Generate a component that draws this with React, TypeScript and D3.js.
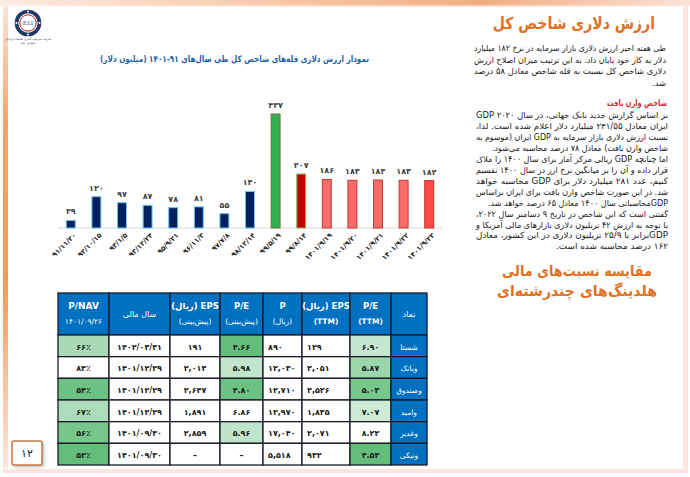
import React from 'react';
import * as d3 from 'd3';

const FA = "'DejaVu Sans', sans-serif";
const toFa = (s: string | number) => String(s).replace(/[0-9]/g, (d) => '۰۱۲۳۴۵۶۷۸۹'[+d]);

// ---------- chart data ----------
const categories = ['۹۱/۱۱/۲۰', '۹۲/۱۰/۱۵', '۹۳/۱/۵', '۹۳/۱۲/۲۴', '۹۵/۹/۲۱', '۹۶/۱۱/۳', '۹۷/۷/۸', '۹۸/۱۲/۱۴', '۹۹/۵/۱۹', '۹۹/۸/۱۴', '۱۴۰۱/۹/۱۹', '۱۴۰۱/۹/۲۰', '۱۴۰۱/۹/۲۱', '۱۴۰۱/۹/۲۲', '۱۴۰۱/۹/۲۳'];
const values = [29, 120, 97, 87, 78, 81, 55, 140, 437, 207, 186, 183, 184, 183, 182];
const groups = ['past', 'past', 'past', 'past', 'past', 'past', 'past', 'past', 'peak', 'after', 'recent', 'recent', 'recent', 'recent', 'last'];
const chartTitle = 'نمودار ارزش دلاری قله\u200cهای شاخص کل طی سال\u200cهای ۹۱-۱۴۰۱ (میلیون دلار)';

// ---------- table data ----------
const symbols = ['شستا', 'وبانک', 'وصندوق', 'وامید', 'وغدیر', 'ونیکی'];
const peTTM = [6.9, 5.87, 5.03, 7.07, 8.22, 4.53];
const epsTTM = [129, 2051, 2526, 1835, 2071, 932];
const price = [890, 12030, 12710, 12970, 17040, 5518];
const peFwd: (number | null)[] = [4.66, 5.98, 4.8, 6.86, 5.96, null];
const epsFwd: (number | null)[] = [191, 2013, 2647, 1891, 2859, null];
const fiscalYear = ['۱۴۰۲/۰۳/۳۱', '۱۴۰۱/۱۲/۲۹', '۱۴۰۱/۱۲/۲۹', '۱۴۰۱/۱۲/۲۹', '۱۴۰۱/۰۹/۳۰', '۱۴۰۱/۰۹/۳۰'];
const pNav = [66, 84, 54, 67, 56, 52];
const headers = [
  ['P/NAV', '۱۴۰۱/۰۹/۲۶'],
  ['سال مالی'],
  ['EPS (ریال)', '(پیش\u200cبینی)'],
  ['P/E', '(پیش\u200cبینی)'],
  ['P', '(ریال)'],
  ['EPS (ریال)', '(TTM)'],
  ['P/E', '(TTM)'],
  ['نماد'],
];

// ---------- text ----------
const mainTitle = 'ارزش دلاری شاخص کل';
const para1 = [
  'طی هفته اخیر ارزش دلاری بازار سرمایه در نرخ ۱۸۲ میلیارد',
  'دلار به کار خود پایان داد. به این ترتیب میزان اصلاح ارزش',
  'دلاری شاخص کل نسبت به قله شاخص معادل ۵۸ درصد',
  'شد.',
];
const para2Title = 'شاخص وارن بافت';
const para2 = [
  'بر اساس گزارش جدید بانک جهانی، در سال ۲۰۲۰ GDP',
  'ایران معادل ۲۳۱/۵۵ میلیارد دلار اعلام شده است. لذا،',
  'نسبت ارزش دلاری بازار سرمایه به GDP ایران (موسوم به',
  'شاخص وارن بافت) معادل ۷۸ درصد محاسبه می\u200cشود.',
  'اما چنانچه GDP ریالی مرکز آمار برای سال ۱۴۰۰ را ملاک',
  'قرار داده و آن را بر میانگین نرخ ارز در سال ۱۴۰۰ تقسیم',
  'کنیم، عدد ۲۸۱ میلیارد دلار برای GDP محاسبه خواهد',
  'شد. در این صورت شاخص وارن بافت برای ایران براساس',
  'GDPمحاسباتی سال ۱۴۰۰ معادل ۶۵ درصد خواهد شد.',
  'گفتنی است که این شاخص در تاریخ ۹ دسامبر سال ۲۰۲۲،',
  'با توجه به ارزش ۴۲ تریلیون دلاری بازارهای مالی آمریکا و',
  'GDPبرابر با ۲۵/۹ تریلیون دلاری در این کشور، معادل',
  '۱۶۲ درصد محاسبه شده است.',
];
const section2 = ['مقایسه نسبت\u200cهای مالی', 'هلدینگ\u200cهای چندرشته\u200cای'];
const pageNo = '۱۲';

const groupFill: Record<string, string> = { past: '#002060', peak: '#2fb050', after: '#c00000', recent: '#ff6b6b', last: '#ff4848' };
const groupStroke: Record<string, string> = { past: '#6fc6ee', peak: '#7a6a3a', after: '#8fc060', recent: '#c0392b', last: '#c0392b' };

function Line({ x, y, text, width, size, weight = 'normal', fill = '#1a1a1a' }: any) {
  return (
    <text x={x} y={y} direction="rtl" textAnchor="start" fontFamily={FA} fontSize={size} fontWeight={weight} fill={fill}
      textLength={width} lengthAdjust="spacingAndGlyphs">{text}</text>
  );
}

export default function App() {
  const W = 690, H = 477;
  const x = d3.scaleBand<string>().domain(categories).range([58, 442]).paddingInner(0.65).paddingOuter(0.325);
  const y = d3.scaleLinear().domain([0, 437]).range([228, 114]);
  const base = y(0);

  // table geometry
  const colEdges = [58, 109, 170, 220, 263, 302, 350, 391, 427];
  const headTop = 293, headBot = 335, rowH = (465 - 335) / 6;
  const greenScale = (arr: (number | null)[]) => {
    const v = arr.filter((d) => d != null) as number[];
    const s = d3.scaleLinear<string>().domain([d3.min(v)!, d3.max(v)!]).range(['#63be7b', '#ffffff']).interpolate(d3.interpolateRgb);
    return (d: number | null) => (d == null ? '#ffffff' : s(d));
  };
  const gNav = greenScale(pNav), gFwd = greenScale(peFwd), gTTM = greenScale(peTTM);
  const fmtInt = (v: number | null) => (v == null ? '–' : toFa(d3.format(',')(v)));
  const fmtDec = (v: number | null) => (v == null ? '–' : toFa(v.toFixed(2)));

  const rows = symbols.map((s, i) => [
    { t: toFa(pNav[i]) + '٪', fill: gNav(pNav[i]), align: 'middle' },
    { t: fiscalYear[i], fill: '#ffffff', align: 'middle' },
    { t: fmtInt(epsFwd[i]), fill: '#ffffff', align: 'middle' },
    { t: fmtDec(peFwd[i]), fill: gFwd(peFwd[i]), align: 'middle' },
    { t: fmtInt(price[i]), fill: '#ffffff', align: 'start' },
    { t: fmtInt(epsTTM[i]), fill: '#ffffff', align: 'start' },
    { t: fmtDec(peTTM[i]), fill: gTTM(peTTM[i]), align: 'middle' },
    { t: s, fill: '#0070c0', align: 'middle', name: true },
  ]);

  const para1W = [192, 192, 192, 14];
  const para2W = [192, 192, 192, 176, 192, 192, 192, 192, 180, 192, 192, 192, 112];

  return (
    <svg width={W} height={H} style={{ position: 'absolute', left: 0, top: 0 }} xmlns="http://www.w3.org/2000/svg">
      <defs>
        <linearGradient id="topBand" x1="0" x2="1" y1="0" y2="0">
          <stop offset="0" stopColor="#fcebe2" />
          <stop offset="0.45" stopColor="#f6c3a0" />
          <stop offset="0.7" stopColor="#f2ad80" />
          <stop offset="1" stopColor="#fbe3d8" />
        </linearGradient>
        <linearGradient id="leftBand" x1="0" x2="0" y1="0" y2="1">
          <stop offset="0" stopColor="#fbe4d8" />
          <stop offset="0.25" stopColor="#f4a468" />
          <stop offset="0.6" stopColor="#f39a58" />
          <stop offset="1" stopColor="#fbe6dc" />
        </linearGradient>
        <linearGradient id="topFade" x1="0" x2="0" y1="0" y2="1">
          <stop offset="0" stopColor="#fff" stopOpacity="0" />
          <stop offset="1" stopColor="#fff" stopOpacity="1" />
        </linearGradient>
        <filter id="shadow" x="-20%" y="-20%" width="150%" height="150%">
          <feDropShadow dx="1.5" dy="1.5" stdDeviation="1" floodColor="#999" floodOpacity="0.6" />
        </filter>
      </defs>
      <rect x={0} y={0} width={W} height={H} fill="#ffffff" />
      {/* frame */}
      <rect x={0} y={0} width={W} height={7} fill="url(#topBand)" />
      <rect x={0} y={4} width={W} height={4} fill="url(#topFade)" />
      <rect x={3} y={6} width={5} height={462} fill="url(#leftBand)" />
      <rect x={683} y={6} width={5} height={464} fill="#fbe5dc" />
      <rect x={3} y={469} width={685} height={4} fill="#fbe5dc" />

      {/* logo */}
      <g>
        <circle cx={28} cy={23} r={11.5} fill="#ffffff" stroke="#1f3864" strokeWidth={3.6} />
        <circle cx={28} cy={23} r={8.2} fill="#ffffff" stroke="#c00000" strokeWidth={0.9} />
        {[0, 90, 180, 270].map((a) => (
          <circle key={a} cx={28 + 11.5 * Math.cos((a * Math.PI) / 180)} cy={23 + 11.5 * Math.sin((a * Math.PI) / 180)} r={1} fill="#ffffff" />
        ))}
        <text x={28} y={25} textAnchor="middle" fontFamily="'Liberation Serif', serif" fontSize={5.5} fill="#1f3864">E.I.I</text>
        <text x={28} y={40} textAnchor="middle" fontFamily={FA} fontSize={3} fill="#1f3864">شرکت سرمایه گذاری اقتصاد ایرانیان</text>
        <text x={28} y={44} textAnchor="middle" fontFamily={FA} fontSize={3} fill="#1f3864">سهامی عام</text>
      </g>

      {/* chart title */}
      <text x={369} y={62} direction="rtl" textAnchor="start" fontFamily={FA} fontSize={9} fontWeight="bold" fill="#1f5f9f"
        textLength={269} lengthAdjust="spacingAndGlyphs">{chartTitle}</text>

      {/* axis line */}
      <line x1={58} x2={442} y1={base} y2={base} stroke="#d9d9d9" strokeWidth={1} />

      {/* bars */}
      {categories.map((c, i) => {
        const bx = x(c)!;
        const by = y(values[i]);
        const g = groups[i];
        return (
          <g key={c}>
            <rect x={bx} y={by} width={x.bandwidth()} height={base - by} fill={groupFill[g]} stroke={groupStroke[g]} strokeWidth={1} />
            <text x={bx + x.bandwidth() / 2} y={by - 6} textAnchor="middle" fontFamily={FA} fontSize={8} fontWeight="bold" fill="#404040">{toFa(values[i])}</text>
            <text transform={`translate(${bx + x.bandwidth() / 2 + 4},${base + 6}) rotate(-45)`} textAnchor="end" dy="0.35em"
              fontFamily={FA} fontSize={7} fontWeight="bold" fill="#262626">{c}</text>
          </g>
        );
      })}

      {/* right text */}
      <text transform="translate(655,29) scale(0.85,1)" x={0} y={0} textAnchor="end" fontFamily={FA} fontSize={16.5} fontWeight="bold" fill="#e2701e">{mainTitle}</text>
      {para1.map((t, i) => (
        <Line key={i} x={666} y={51 + i * 11.6} text={t} width={para1W[i]} size={8.5} />
      ))}
      <text x={667} y={106} textAnchor="end" fontFamily={FA} fontSize={9} fontWeight="bold" fill="#e3262b"
        textLength={60} lengthAdjust="spacingAndGlyphs">{para2Title}</text>
      {para2.map((t, i) => (
        <Line key={i} x={668} y={118 + i * 10.95} text={t} width={para2W[i]} size={8.5} />
      ))}
      <text x={577} y={276} textAnchor="middle" fontFamily={FA} fontSize={15} fontWeight="bold" fill="#e2701e"
        textLength={150} lengthAdjust="spacingAndGlyphs">{section2[0]}</text>
      <text x={577} y={296} textAnchor="middle" fontFamily={FA} fontSize={15} fontWeight="bold" fill="#e2701e"
        textLength={160} lengthAdjust="spacingAndGlyphs">{section2[1]}</text>

      {/* table */}
      <g>
        {headers.map((h, j) => {
          const x0 = colEdges[j], x1 = colEdges[j + 1], cx = (x0 + x1) / 2;
          return (
            <g key={'h' + j}>
              <rect x={x0} y={headTop} width={x1 - x0} height={headBot - headTop} fill="#0070c0" stroke="#1a1a2a" strokeWidth={1.3} />
              {h.length === 2 ? (
                <>
                  <text x={cx} y={309} textAnchor="middle" direction="rtl" fontFamily={FA} fontSize={j === 0 ? 9 : 8.5} fontWeight="bold" fill="#ffffff">{h[0]}</text>
                  <text x={cx} y={324} textAnchor="middle" direction="rtl" fontFamily={FA} fontSize={7.5} fontWeight={h[1].includes('TTM') ? 'bold' : 'normal'} fill="#ffffff">{h[1]}</text>
                </>
              ) : (
                <text x={cx} y={317} textAnchor="middle" direction="rtl" fontFamily={FA} fontSize={8} fill="#ffffff">{h[0]}</text>
              )}
            </g>
          );
        })}
        {rows.map((r, i) =>
          r.map((cell: any, j) => {
            const x0 = colEdges[j], x1 = colEdges[j + 1];
            const y0 = headBot + i * rowH;
            const tx = cell.align === 'start' ? x0 + 5 : (x0 + x1) / 2;
            return (
              <g key={i + '-' + j}>
                <rect x={x0} y={y0} width={x1 - x0} height={rowH} fill={cell.fill} stroke="#1a1a2a" strokeWidth={1.3} />
                <text x={tx} y={y0 + 14.5} textAnchor={cell.align} direction={cell.name ? 'rtl' : 'ltr'} fontFamily={FA}
                  fontSize={cell.name ? 7.5 : 8} fontWeight={cell.name ? 'normal' : 'bold'} fill={cell.name ? '#ffffff' : '#1a1a1a'}>{cell.t}</text>
              </g>
            );
          })
        )}
      </g>

      {/* page number */}
      <rect x={12} y={441} width={30} height={24} rx={2} fill="#ffffff" stroke="#c47a42" strokeWidth={1.5} filter="url(#shadow)" />
      <text x={27} y={457} textAnchor="middle" fontFamily={FA} fontSize={11} fill="#1a1a1a">{pageNo}</text>
    </svg>
  );
}
